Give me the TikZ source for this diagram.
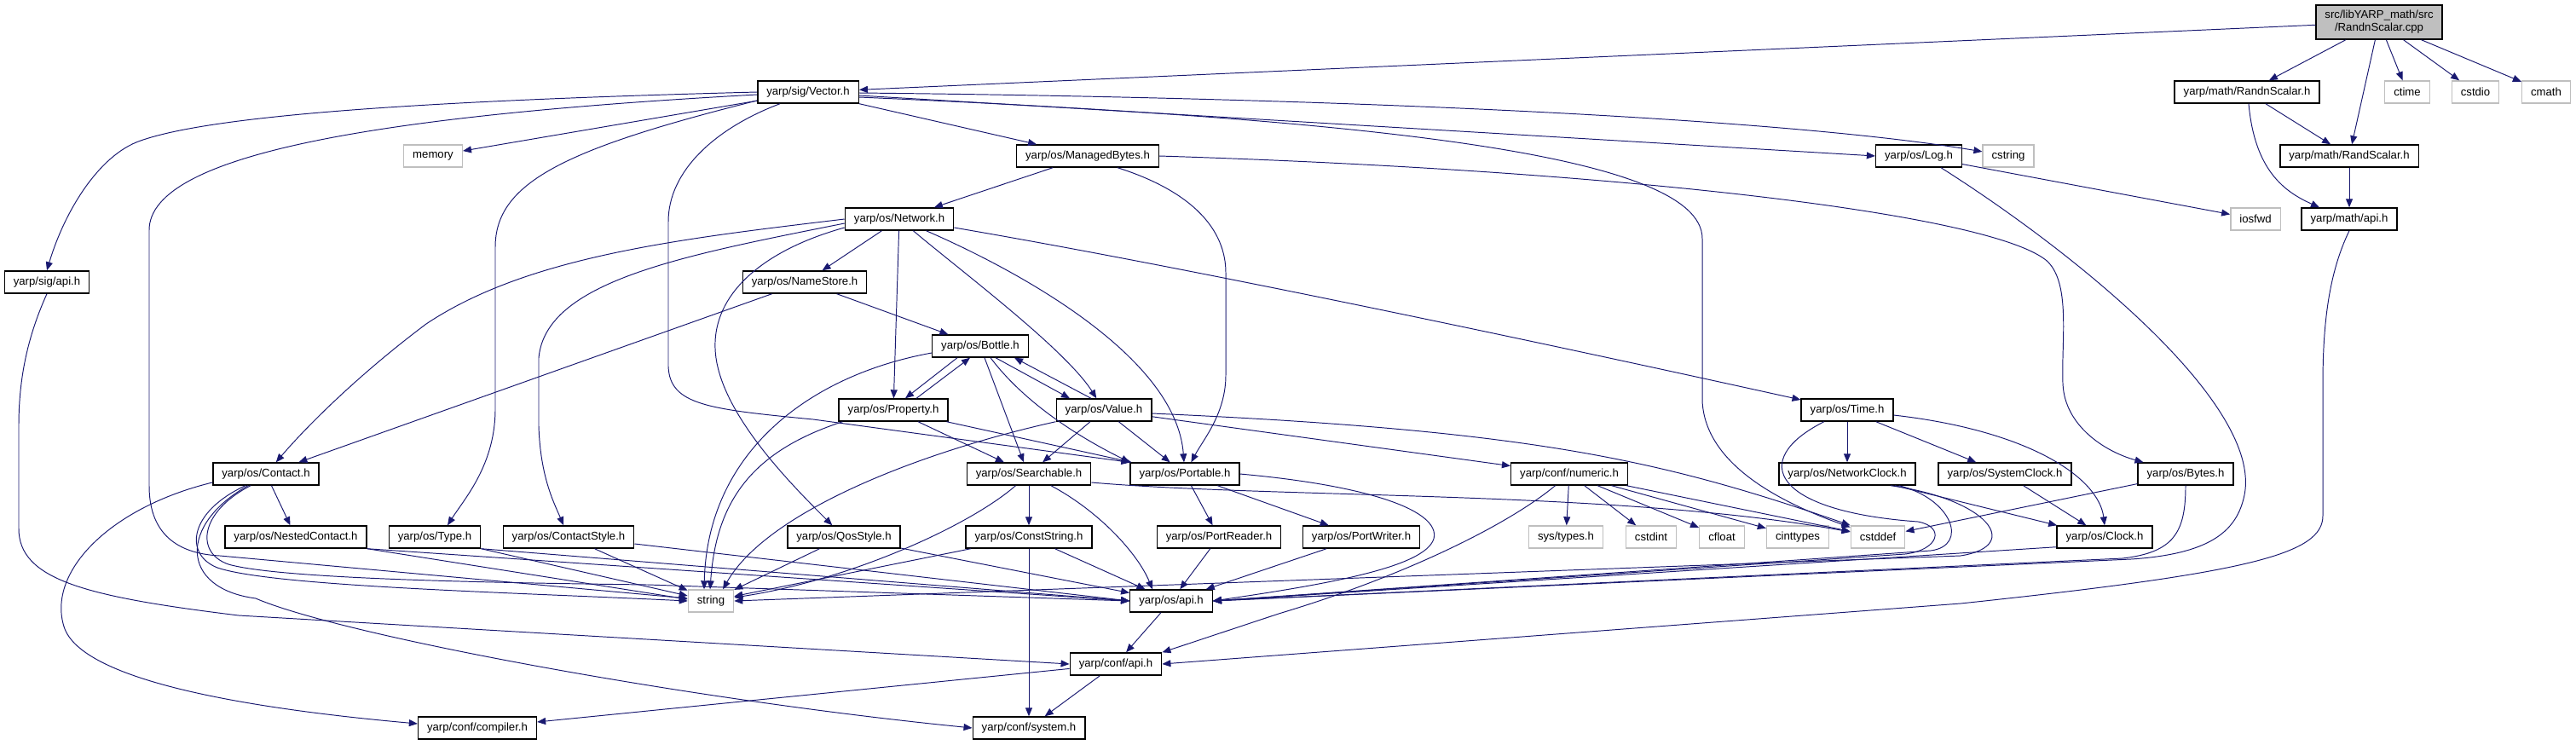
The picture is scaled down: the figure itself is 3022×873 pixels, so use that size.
\documentclass[tikz,border=0pt]{standalone}
\usepackage{fontspec}
\setmainfont{Liberation Sans}
\usepackage{tikz}
\usetikzlibrary{arrows.meta, positioning, calc}
\definecolor{incblue}{RGB}{25,25,112}
\definecolor{sysgray}{RGB}{191,191,191}
\definecolor{srcgray}{RGB}{191,191,191}
\newcommand{\hdrfont}{\fontsize{7.5}{8.6}\selectfont}
\tikzset{
  hdrbox/.style={rectangle, draw=black, fill=white, font=\hdrfont,
    minimum height=0.52cm, inner xsep=0.21cm, inner ysep=0pt, line width=0.8pt},
  sysbox/.style={hdrbox, draw=sysgray},
  srcbox/.style={hdrbox, fill=srcgray, align=center, minimum height=0.8cm},
  inc/.style={-{Triangle[length=0.2cm, width=0.16cm]}, color=incblue, line width=0.55pt}
}

\begin{document}
\begin{tikzpicture}[x=0.02cm, y=-0.02cm]
  \useasboundingbox (0,0) rectangle (3022,873);

  % source file and its direct includes
  \node[srcbox] (src) at (2791,26) {src/libYARP\_math/src\\/RandnScalar.cpp};
  \node[hdrbox] (vector) at (948,108) {yarp/sig/Vector.h};
  \node[hdrbox] (randnh) at (2636,108) {yarp/math/RandnScalar.h};
  \node[sysbox] (ctime) at (2824,108) {ctime};
  \node[sysbox] (cstdio) at (2904,108) {cstdio};
  \node[sysbox] (cmath) at (2987,108) {cmath};

  % second and third rows
  \node[sysbox] (memory) at (508,183) {memory};
  \node[hdrbox] (managed) at (1276,183) {yarp/os/ManagedBytes.h};
  \node[hdrbox] (logh) at (2251,183) {yarp/os/Log.h};
  \node[sysbox] (cstring) at (2356,183) {cstring};
  \node[hdrbox] (randsc) at (2756,183) {yarp/math/RandScalar.h};
  \node[hdrbox] (network) at (1055,257) {yarp/os/Network.h};
  \node[sysbox] (iosfwd) at (2646,257) {iosfwd};
  \node[hdrbox] (mathapi) at (2756,257) {yarp/math/api.h};

  % middle rows
  \node[hdrbox] (sigapi) at (55,331) {yarp/sig/api.h};
  \node[hdrbox] (namestore) at (944,331) {yarp/os/NameStore.h};
  \node[hdrbox] (bottle) at (1150,406) {yarp/os/Bottle.h};
  \node[hdrbox] (property) at (1048,481) {yarp/os/Property.h};
  \node[hdrbox] (value) at (1295,481) {yarp/os/Value.h};
  \node[hdrbox] (timeh) at (2167,481) {yarp/os/Time.h};
  \node[hdrbox] (contact) at (312,556) {yarp/os/Contact.h};
  \node[hdrbox] (searchable) at (1207,556) {yarp/os/Searchable.h};
  \node[hdrbox] (portable) at (1390,556) {yarp/os/Portable.h};
  \node[hdrbox] (numeric) at (1841,556) {yarp/conf/numeric.h};
  \node[hdrbox] (netclock) at (2167,556) {yarp/os/NetworkClock.h};
  \node[hdrbox] (sysclock) at (2352,556) {yarp/os/SystemClock.h};
  \node[hdrbox] (bytes) at (2564,556) {yarp/os/Bytes.h};

  % leaf row
  \node[hdrbox] (nested) at (347,630) {yarp/os/NestedContact.h};
  \node[hdrbox] (typeh) at (510,630) {yarp/os/Type.h};
  \node[hdrbox] (cstyle) at (667,630) {yarp/os/ContactStyle.h};
  \node[hdrbox] (qos) at (990,630) {yarp/os/QosStyle.h};
  \node[hdrbox] (cstr) at (1207,630) {yarp/os/ConstString.h};
  \node[hdrbox] (preader) at (1430,630) {yarp/os/PortReader.h};
  \node[hdrbox] (pwriter) at (1597,630) {yarp/os/PortWriter.h};
  \node[sysbox] (systypes) at (1837,630) {sys/types.h};
  \node[sysbox] (cstdint) at (1937,630) {cstdint};
  \node[sysbox] (cfloat) at (2020,630) {cfloat};
  \node[sysbox] (cinttypes) at (2109,630) {cinttypes};
  \node[sysbox] (cstddef) at (2203,630) {cstddef};
  \node[hdrbox] (clock) at (2469,630) {yarp/os/Clock.h};

  % bottom rows
  \node[sysbox] (string) at (834,705) {string};
  \node[hdrbox] (osapi) at (1374,705) {yarp/os/api.h};
  \node[hdrbox] (confapi) at (1309,779) {yarp/conf/api.h};
  \node[hdrbox] (system) at (1207,854) {yarp/conf/system.h};
  \node[hdrbox] (compiler) at (560,854) {yarp/conf/compiler.h};

  % includes of the source file
  \draw[inc] (src) -- (vector);
  \draw[inc] (src) -- (randnh);
  \draw[inc] (src) -- (randsc);
  \draw[inc] (src) -- (ctime);
  \draw[inc] (src) -- (cstdio);
  \draw[inc] (src) -- (cmath);
  \draw[inc] (randnh) -- (randsc);
  \draw[inc] ($(randnh.south)+(2,0)$) .. controls (2645,200) and (2680,225) .. ($(mathapi.north)+(-35,0)$);
  \draw[inc] (randsc) -- (mathapi);
  \draw[inc] (mathapi.south) .. controls (2732,320) and (2725,380) .. (2725,450) -- (2725,605)
    .. controls (2725,650) and (2640,672) .. (2300,708) -- (confapi.east);

  % yarp/sig/Vector.h
  \draw[inc] (vector.west) .. controls (500,118) and (250,135) .. (165,165)
    .. controls (115,182) and (75,250) .. (sigapi.north);
  \draw[inc] ($(vector.west)+(0,3)$) .. controls (450,135) and (175,180) .. (175,270) -- (175,570)
    .. controls (175,632) and (215,650) .. (258,652) -- ($(string.west)+(0,-3)$);
  \draw[inc] (vector) -- (memory);
  \draw[inc] ($(vector.west)+(0,10)$) .. controls (660,175) and (581,215) .. (581,290) -- (581,480)
    .. controls (581,545) and (545,585) .. ($(typeh.north)+(15,0)$);
  \draw[inc] ($(vector.south)+(-33,0)$) .. controls (840,150) and (784,200) .. (784,260) -- (784,430)
    .. controls (786,475) and (830,480) .. (954,492) -- (portable.north west);
  \draw[inc] (vector) -- (managed);
  \draw[inc] ($(vector.east)+(0,4)$) -- (logh.west);
  \draw[inc] ($(vector.east)+(0,1)$) .. controls (1600,115) and (2100,140) .. (cstring);
  \draw[inc] ($(vector.east)+(0,6)$) .. controls (1600,140) and (1997,180) .. (1997,280) -- (1997,470)
    .. controls (2000,545) and (2090,590) .. (cstddef);

  % yarp/os/Network.h
  \draw[inc] (network.west) .. controls (800,280) and (620,300) .. (500,380)
    .. controls (420,440) and (360,500) .. (contact);
  \draw[inc] ($(network.west)+(0,5)$) .. controls (800,300) and (640,330) .. (632,420) -- (632,500)
    .. controls (634,560) and (650,590) .. (cstyle);
  \draw[inc] ($(network.west)+(0,10)$) .. controls (890,295) and (830,350) .. (840,420)
    .. controls (850,490) and (930,570) .. (qos);
  \draw[inc] (network) -- (namestore);
  \draw[inc] (network) -- (property);
  \draw[inc] (network) .. controls (1130,320) and (1250,410) .. (value);
  \draw[inc] (network) .. controls (1200,320) and (1380,420) .. (portable);
  \draw[inc] ($(network.east)+(0,10)$) .. controls (1400,315) and (1800,400) .. (timeh);

  % yarp/os/ManagedBytes.h
  \draw[inc] (managed) -- (network);
  \draw[inc] ($(managed.south)+(35,0)$) .. controls (1400,225) and (1438,270) .. (1438,320) -- (1438,440)
    .. controls (1438,485) and (1412,515) .. (portable);
  \draw[inc] (managed.east) .. controls (1900,200) and (2330,250) .. (2400,305)
    .. controls (2430,330) and (2418,400) .. (2420,450)
    .. controls (2422,500) and (2470,530) .. (bytes);

  % yarp/os/NameStore.h, Bottle.h, Property.h, Value.h
  \draw[inc] (namestore) -- (contact);
  \draw[inc] (namestore) -- (bottle);
  \draw[inc] ($(bottle.south)+(-27,0)$) -- ($(property.north)+(14,0)$);
  \draw[inc] ($(property.north)+(27,0)$) -- ($(bottle.south)+(-12,0)$);
  \draw[inc] ($(bottle.south)+(18,0)$) -- ($(value.north)+(-40,0)$);
  \draw[inc] ($(value.north)+(-15,0)$) -- ($(bottle.south)+(40,0)$);
  \draw[inc] ($(bottle.south)+(5,0)$) -- ($(searchable.north)+(-6,0)$);
  \draw[inc] ($(bottle.south)+(12,0)$) .. controls (1200,470) and (1260,510) .. (portable.north west);
  \draw[inc] ($(bottle.west)+(0,8)$) .. controls (950,440) and (830,530) .. ($(string.north)+(-8,0)$);
  \draw[inc] ($(property.south west)+(5,0)$) .. controls (880,530) and (840,590) .. ($(string.north)+(-1,0)$);
  \draw[inc] (property) -- (searchable);
  \draw[inc] (property) -- (portable);
  \draw[inc] (value.south west) .. controls (1080,530) and (900,600) .. ($(string.north)+(14,0)$);
  \draw[inc] (value) -- (searchable);
  \draw[inc] (value) -- (portable);
  \draw[inc] (value) -- (numeric);
  \draw[inc] ($(value.east)+(0,4)$) .. controls (1800,505) and (1950,540) .. (cstddef.north west);

  % yarp/os/Searchable.h, ConstString.h, QosStyle.h
  \draw[inc] (searchable) .. controls (1140,615) and (1000,680) .. ($(string.east)+(0,-4)$);
  \draw[inc] (searchable) -- (cstr);
  \draw[inc] (searchable) .. controls (1290,600) and (1335,650) .. ($(osapi.north)+(-22,0)$);
  \draw[inc] ($(searchable.east)+(0,10)$) .. controls (1500,585) and (1900,575) .. ($(cstddef.west)+(0,-6)$);
  \draw[inc] (cstr) -- (string);
  \draw[inc] (cstr) -- (osapi);
  \draw[inc] (cstr) -- (system);
  \draw[inc] (qos) -- (string);
  \draw[inc] (qos) -- (osapi);

  % yarp/os/Portable.h and the port headers
  \draw[inc] (portable) -- (preader);
  \draw[inc] (portable) -- (pwriter);
  \draw[inc] (portable.east) .. controls (1610,570) and (1690,600) .. (1682,632)
    .. controls (1672,665) and (1560,685) .. (osapi.east);
  \draw[inc] (preader) -- (osapi);
  \draw[inc] (pwriter) -- (osapi);

  % yarp/conf/numeric.h
  \draw[inc] (numeric) .. controls (1770,615) and (1650,675) .. (1500,720) -- (confapi.north east);
  \draw[inc] (numeric) -- (systypes);
  \draw[inc] (numeric) -- (cstdint);
  \draw[inc] (numeric) -- (cfloat);
  \draw[inc] (numeric) -- (cinttypes);
  \draw[inc] (numeric) -- (cstddef);

  % yarp/os/Time.h and the clocks
  \draw[inc] (timeh) -- (netclock);
  \draw[inc] (timeh) -- (sysclock);
  \draw[inc] ($(timeh.east)+(0,6)$) .. controls (2380,505) and (2462,560) .. (clock.north);
  \draw[inc] (timeh) .. controls (2050,540) and (2080,600) .. (2250,612)
    .. controls (2282,618) and (2275,645) .. (2235,650) -- (osapi.east);
  \draw[inc] (netclock) -- (clock);
  \draw[inc] ($(netclock.south east)+(-30,0)$) .. controls (2330,585) and (2375,640) .. (2300,652) -- (string.east);
  \draw[inc] ($(netclock.south east)+(-20,0)$) .. controls (2290,585) and (2310,640) .. (2265,646) -- (osapi.east);
  \draw[inc] (sysclock) -- (clock);
  \draw[inc] ($(clock.south west)+(0,-2)$) -- (osapi.east);
  \draw[inc] (bytes) -- (cstddef);
  \draw[inc] (bytes.south) .. controls (2564,625) and (2550,648) .. (2490,655) -- (osapi.east);

  % yarp/os/Log.h
  \draw[inc] (logh) -- (iosfwd);
  \draw[inc] ($(logh.south)+(26,0)$) .. controls (2440,300) and (2660,480) .. (2632,585)
    .. controls (2622,625) and (2590,650) .. (2500,656) -- (osapi.east);

  % yarp/os/Contact.h and friends
  \draw[inc] (contact) -- (nested);
  \draw[inc] ($(contact.west)+(0,10)$) .. controls (130,595) and (55,670) .. (75,735)
    .. controls (95,800) and (300,832) .. ($(compiler.west)+(0,-5)$);
  \draw[inc] ($(contact.south)+(-24,0)$) .. controls (222,600) and (215,650) .. (255,666)
    .. controls (320,688) and (600,695) .. (string.west);
  \draw[inc] ($(contact.south)+(-18,0)$) .. controls (235,600) and (228,648) .. (268,662)
    .. controls (330,680) and (600,684) .. (760,686) -- (osapi.west);
  \draw[inc] ($(contact.south)+(-21,0)$) .. controls (210,615) and (210,690) .. (300,702)
    .. controls (400,745) and (800,820) .. (system.west);
  \draw[inc] (nested.south east) -- ($(string.west)+(0,-2)$);
  \draw[inc] (nested.south east) -- (osapi.west);
  \draw[inc] (typeh.south east) -- ($(string.west)+(0,-6)$);
  \draw[inc] (typeh.south east) -- (osapi.west);
  \draw[inc] (cstyle) -- (string);
  \draw[inc] ($(cstyle.east)+(0,8)$) -- (osapi.west);

  % api headers
  \draw[inc] (sigapi.south) .. controls (30,400) and (22,450) .. (22,500) -- (22,620)
    .. controls (22,680) and (100,700) .. (280,722) -- (confapi.west);
  \draw[inc] (osapi) -- (confapi);
  \draw[inc] (confapi) -- (system);
  \draw[inc] (confapi) -- (compiler);
\end{tikzpicture}
\end{document}
